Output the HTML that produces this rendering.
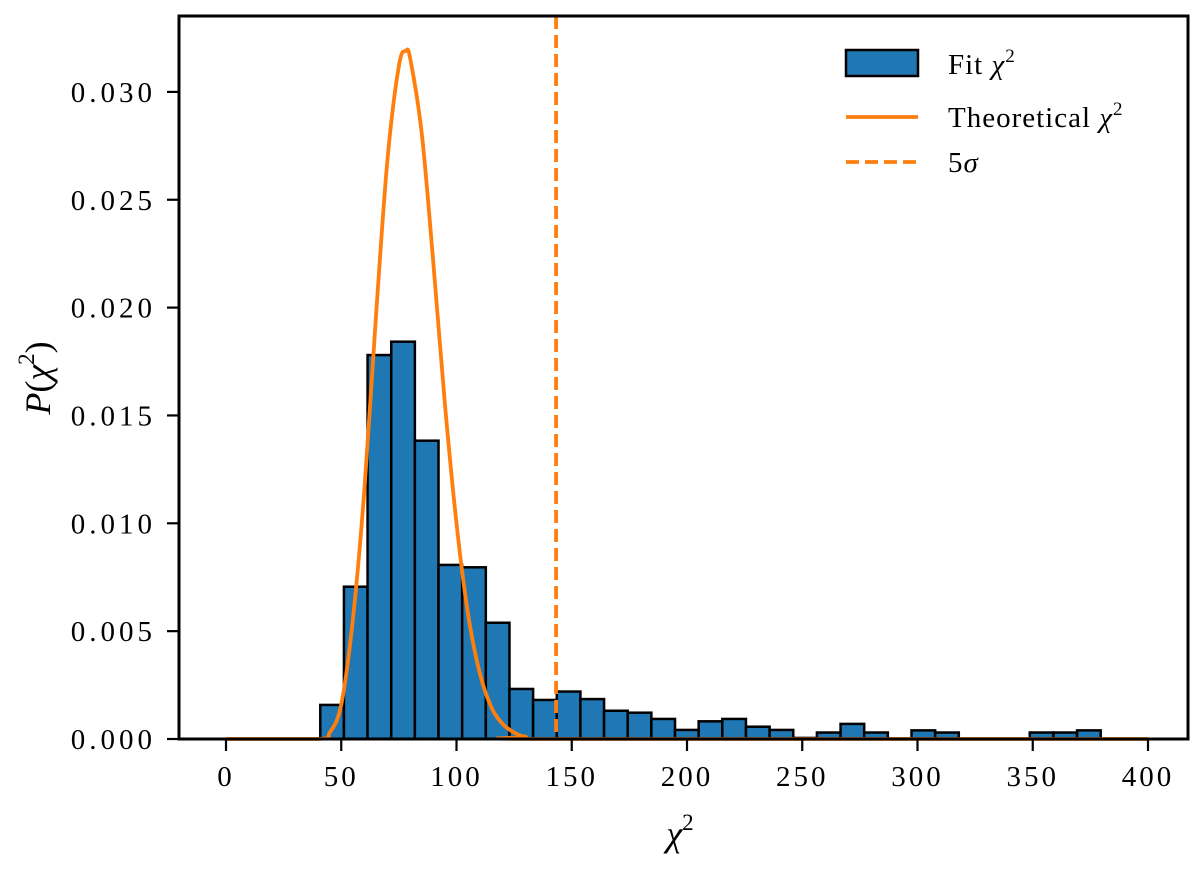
<!DOCTYPE html>
<html><head><meta charset="utf-8"><style>
body{margin:0;background:#fff}
svg text{font-family:"Liberation Serif","DejaVu Serif",serif;fill:#000}
</style></head><body>
<svg id="chart" width="1200" height="867" viewBox="0 0 1200 867" xmlns="http://www.w3.org/2000/svg">
<g id="bars"></g>
<path id="theory" fill="none" stroke="#ff7f0e" stroke-width="3.8"/>
<line id="sigma" stroke="#ff7f0e" stroke-width="3.8" stroke-dasharray="13,6"/>
<rect x="179" y="16" width="1009" height="723" fill="none" stroke="#000" stroke-width="3"/>
<g id="xticks"></g>
<g id="yticks"></g>
<text x="680" y="846" font-size="36" font-style="italic" text-anchor="middle">χ<tspan font-size="23" font-style="normal" dy="-16">2</tspan></text>
<text transform="translate(50,378) rotate(-90)" font-size="36" text-anchor="middle"><tspan font-style="italic">P</tspan>(<tspan font-style="italic">χ</tspan><tspan font-size="23" dy="-16">2</tspan><tspan dy="16">)</tspan></text>
<g>
<rect x="846" y="50" width="72" height="26" fill="#1f77b4" stroke="#000" stroke-width="2.5"/>
<text x="948" y="74" font-size="29" letter-spacing="1">Fit <tspan font-style="italic">χ</tspan><tspan font-size="19" dy="-12">2</tspan></text>
<line x1="846" y1="117" x2="918" y2="117" stroke="#ff7f0e" stroke-width="3.8"/>
<text x="948" y="127" font-size="29" letter-spacing="1">Theoretical <tspan font-style="italic">χ</tspan><tspan font-size="19" dy="-12">2</tspan></text>
<line x1="846" y1="162" x2="918" y2="162" stroke="#ff7f0e" stroke-width="3.8" stroke-dasharray="13,6"/>
<text x="948" y="172" font-size="29" letter-spacing="1">5<tspan font-style="italic">σ</tspan></text>
</g>
</svg>
<script>
const binStart = 40.9;
const binWidth = 10.26;
const binHeights = [0.00158,0.00706,0.0178,0.01842,0.01383,0.00807,0.00796,0.00539,0.00232,0.00181,0.0022,0.00185,0.00131,0.00122,0.00093,0.00042,0.00082,0.00093,0.00057,0.00042,0.00005,0.0003,0.0007,0.0003,0,0.0004,0.0003,0,0,0,0.0003,0.0003,0.0004,0,0];
const curveX = [0,40,45,50,55,60,65,70,75,78,80,85,90,95,100,105,110,115,120,125,130,140,400];
const curveY = [0,0,0.0003,0.0016,0.0055,0.0115,0.0195,0.0268,0.0312,0.0319,0.0315,0.0280,0.0220,0.0155,0.0100,0.0058,0.0031,0.0015,0.0007,0.0003,0.0001,0,0];
const sigmaX = 143.2;
const xTicks = [0,50,100,150,200,250,300,350,400];
const yTicks = [0,0.005,0.010,0.015,0.020,0.025,0.030];
const yTickLabels = ["0.000","0.005","0.010","0.015","0.020","0.025","0.030"];

const X = v => 226 + v * 2.305;
const Y = v => 739 - v * 21570;
const NS = "http://www.w3.org/2000/svg";
const bars = document.getElementById('bars');
binHeights.forEach((h,i)=>{
  const r=document.createElementNS(NS,'rect');
  const x0=X(binStart+i*binWidth), x1=X(binStart+(i+1)*binWidth);
  r.setAttribute('x',x0);r.setAttribute('width',x1-x0);
  r.setAttribute('y',Y(h));r.setAttribute('height',739-Y(h));
  r.setAttribute('fill','#1f77b4');r.setAttribute('stroke','#000');r.setAttribute('stroke-width','2.5');
  
  
  bars.appendChild(r);
});
const pts = curveX.map((x,i)=>[X(x),Y(curveY[i])]);
let d = `M${pts[0][0]},${pts[0][1]}`;
for(let i=0;i<pts.length-1;i++){
  const p0=pts[Math.max(0,i-1)],p1=pts[i],p2=pts[i+1],p3=pts[Math.min(pts.length-1,i+2)];
  let c1y=p1[1]+(p2[1]-p0[1])/6, c2y=p2[1]-(p3[1]-p1[1])/6;
  c1y=Math.min(c1y,739);c2y=Math.min(c2y,739);
  d+=` C${p1[0]+(p2[0]-p0[0])/6},${c1y} ${p2[0]-(p3[0]-p1[0])/6},${c2y} ${p2[0]},${p2[1]}`;
}
document.getElementById('theory').setAttribute('d',d);
const s=document.getElementById('sigma');
s.setAttribute('x1',X(sigmaX));s.setAttribute('x2',X(sigmaX));s.setAttribute('y1',16);s.setAttribute('y2',739);
const xt=document.getElementById('xticks');
xTicks.forEach(v=>{
  const l=document.createElementNS(NS,'line');
  l.setAttribute('x1',X(v));l.setAttribute('x2',X(v));l.setAttribute('y1',739);l.setAttribute('y2',751);
  l.setAttribute('stroke','#000');l.setAttribute('stroke-width','2.2');
  
  
  xt.appendChild(l);
  const t=document.createElementNS(NS,'text');
  t.setAttribute('x',X(v));t.setAttribute('y',786);t.setAttribute('font-size','29');t.setAttribute('letter-spacing','3');t.setAttribute('text-anchor','middle');
  t.textContent=v;
  
  
  xt.appendChild(t);
});
const yt=document.getElementById('yticks');
yTicks.forEach((v,i)=>{
  const l=document.createElementNS(NS,'line');
  l.setAttribute('x1',167);l.setAttribute('x2',179);l.setAttribute('y1',Y(v));l.setAttribute('y2',Y(v));
  l.setAttribute('stroke','#000');l.setAttribute('stroke-width','2.2');
  
  
  yt.appendChild(l);
  const t=document.createElementNS(NS,'text');
  t.setAttribute('x',156);t.setAttribute('y',Y(v)+10);t.setAttribute('font-size','29');t.setAttribute('letter-spacing','4');t.setAttribute('text-anchor','end');
  t.textContent=yTickLabels[i];
  
  
  yt.appendChild(t);
});
</script>
</body></html>
